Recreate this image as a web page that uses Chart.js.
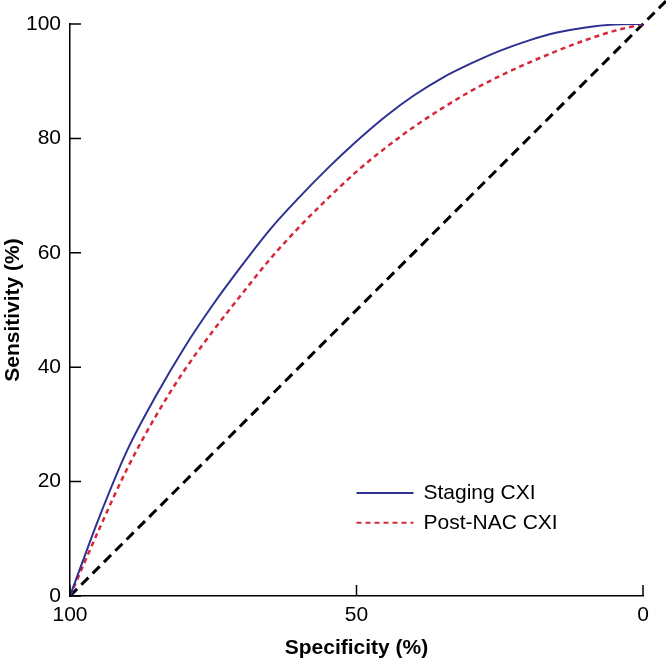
<!DOCTYPE html>
<html>
<head>
<meta charset="utf-8">
<script src="https://cdn.jsdelivr.net/npm/chart.js@4/dist/chart.umd.min.js"></script>
<style>
  html, body { margin: 0; padding: 0; background: #fff; }
  #wrap { width: 666px; height: 661px; position: relative; }
</style>
</head>
<body>
<div id="wrap"><canvas id="roc"></canvas></div>
<script>
// Curvas ROC (especificidad de 100 a 0)
const specGrid = [100, 95, 90, 85, 80, 75, 70, 65, 60, 55, 50, 45, 40, 35, 30, 25, 20, 15, 10, 5, 0];

const stagingSens = [0, 13.5, 25.5, 35, 43.5, 51, 57.8, 64.2, 69.7, 74.8, 79.5, 83.8, 87.5, 90.6, 93.1, 95.3, 97.1, 98.5, 99.4, 99.9, 100];
const postNacSens = [0, 11.5, 22.3, 31.5, 39.5, 46.4, 52.8, 59, 64.5, 69.5, 74.2, 78.3, 82, 85.3, 88.3, 90.9, 93.2, 95.3, 97.2, 98.8, 100];

// linea de referencia (azar), sigue mas alla del area
const refSpec = [100, -5];
const refSens = [0, 105];

const xTicks = [100, 50, 0];
const yTicks = [0, 20, 40, 60, 80, 100];

const seriesNames = ['Staging CXI', 'Post-NAC CXI'];

const FONT = 'Liberation Sans, Arial, Helvetica, sans-serif';

function toPoints(xs, ys) {
  return xs.map((x, i) => ({ x: x, y: ys[i] }));
}

// marcas de eje hacia dentro
const innerTicks = {
  id: 'innerTicks',
  afterDraw(chart) {
    const ctx = chart.ctx;
    const area = chart.chartArea;
    const len = 11;
    ctx.save();
    ctx.strokeStyle = '#000';
    ctx.lineWidth = 1.5;
    ctx.beginPath();
    xTicks.forEach(v => {
      const px = chart.scales.x.getPixelForValue(v);
      ctx.moveTo(px, area.bottom);
      ctx.lineTo(px, area.bottom - len);
    });
    yTicks.forEach(v => {
      const py = chart.scales.y.getPixelForValue(v);
      ctx.moveTo(area.left, py);
      ctx.lineTo(area.left + len, py);
    });
    ctx.stroke();
    ctx.restore();
  }
};

// leyenda dentro del area
const insideLegend = {
  id: 'insideLegend',
  afterDraw(chart) {
    const ctx = chart.ctx;
    const xs = chart.scales.x;
    const ys = chart.scales.y;
    const x0 = xs.getPixelForValue(50);
    const rows = [ys.getPixelForValue(18), ys.getPixelForValue(12.8)];
    ctx.save();
    ctx.font = '21px ' + FONT;
    ctx.textBaseline = 'middle';
    ctx.fillStyle = '#000';
    [0, 1].forEach(i => {
      const ds = chart.data.datasets[i];
      ctx.strokeStyle = ds.borderColor;
      ctx.lineWidth = 2;
      ctx.setLineDash(ds.borderDash || []);
      ctx.beginPath();
      ctx.moveTo(x0, rows[i]);
      ctx.lineTo(x0 + 57, rows[i]);
      ctx.stroke();
      ctx.setLineDash([]);
      ctx.fillText(ds.label, x0 + 67, rows[i]);
    });
    ctx.restore();
  }
};

const ctx = document.getElementById('roc').getContext('2d');
const chart = new Chart(ctx, {
  type: 'scatter',
  data: {
    datasets: [
      {
        label: seriesNames[0],
        data: toPoints(specGrid, stagingSens),
        showLine: true,
        borderColor: '#2e3192',
        borderWidth: 2,
        pointRadius: 0,
        cubicInterpolationMode: 'monotone'
      },
      {
        label: seriesNames[1],
        data: toPoints(specGrid, postNacSens),
        showLine: true,
        borderColor: '#d6283a',
        borderWidth: 2.5,
        borderDash: [5, 4],
        pointRadius: 0,
        cubicInterpolationMode: 'monotone'
      },
      {
        label: 'ref',
        data: toPoints(refSpec, refSens),
        showLine: true,
        borderColor: '#000',
        borderWidth: 3,
        borderDash: [10, 6],
        pointRadius: 0,
        clip: false
      }
    ]
  },
  options: {
    responsive: true,
    maintainAspectRatio: false,
    animation: false,
    layout: { padding: { top: 24, right: 23, left: 0, bottom: 0 } },
    plugins: {
      legend: { display: false },
      tooltip: { enabled: false }
    },
    scales: {
      x: {
        type: 'linear',
        reverse: true,
        min: 0,
        max: 100,
        afterBuildTicks: s => { s.ticks = xTicks.map(v => ({ value: v })); },
        afterFit: s => { s.height = 65; },
        grid: { display: false, drawTicks: false },
        border: { display: true, color: '#000', width: 1.5 },
        ticks: { color: '#000', padding: 7, maxRotation: 0, font: { family: FONT, size: 21 } },
        title: {
          display: true,
          text: 'Specificity (%)',
          color: '#000',
          padding: { top: 0, bottom: 0 },
          font: { family: FONT, size: 21, weight: 'bold' }
        }
      },
      y: {
        type: 'linear',
        min: 0,
        max: 100,
        afterBuildTicks: s => { s.ticks = yTicks.map(v => ({ value: v })); },
        afterFit: s => { s.width = 70; },
        grid: { display: false, drawTicks: false },
        border: { display: true, color: '#000', width: 1.5 },
        ticks: { color: '#000', padding: 9, font: { family: FONT, size: 21 } },
        title: {
          display: true,
          text: 'Sensitivity (%)',
          color: '#000',
          padding: { top: 1, bottom: 0 },
          font: { family: FONT, size: 21, weight: 'bold' }
        }
      }
    }
  },
  plugins: [innerTicks, insideLegend]
});
</script>
</body>
</html>
